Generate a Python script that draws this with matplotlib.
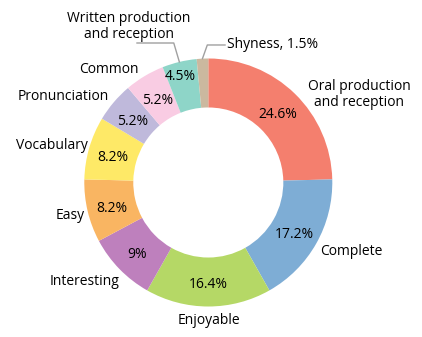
import numpy as np
import matplotlib
matplotlib.use("Agg")
import matplotlib.pyplot as plt

# data
categories = ["Oral production\nand reception", "Complete", "Enjoyable", "Interesting",
              "Easy", "Vocabulary", "Pronunciation", "Common",
              "Written production\nand reception", "Shyness"]
values = [24.6, 17.2, 16.4, 9, 8.2, 8.2, 5.2, 5.2, 4.5, 1.5]
colors = ["#F47F6E", "#7EADD5", "#B5D866", "#BE80BD", "#F9B562",
          "#FEE967", "#BFB9DB", "#F9CCE3", "#8ED5C8", "#CBB89F"]

plt.rcParams['font.family'] = ['Open Sans', 'DejaVu Sans']
fs = 10

fig = plt.figure(figsize=(4.22, 3.37), dpi=100)
ax = fig.add_axes([0, 0, 1, 1])

wedges, texts, autotexts = ax.pie(
    values, colors=colors, startangle=90, counterclock=False, radius=1,
    wedgeprops=dict(width=0.395, linewidth=0),
    labels=categories, labeldistance=1.06,
    autopct=lambda p: '%g%%' % round(p, 1), pctdistance=0.8,
    textprops=dict(fontsize=fs, color='black'))

# pie resets the limits, so place the donut afterwards (centre 208,182 px, radius 124 px)
ax.set_xlim(-208.3 / 124, (422 - 208.3) / 124)
ax.set_ylim(-(337 - 182.5) / 124, 182.5 / 124)
ax.set_aspect('equal')
ax.axis('off')

# outer label placement (in radius units), tuned by eye
label_pos = [(0.80, 0.71, 'left'), (0.90, -0.56, 'left'), (0.006, -1.11, 'center'),
             (-0.72, -0.80, 'right'), (-1.00, -0.27, 'right'), (-0.975, 0.30, 'right'),
             (-0.80, 0.69, 'right'), (-0.56, 0.915, 'right')]
for t, (x, y, ha) in zip(texts, label_pos):
    t.set_position((x, y))
    t.set_horizontalalignment(ha)
    t.set_verticalalignment('center')
    t.set_multialignment('center')
    t.set_linespacing(1.1)

for at in autotexts:
    x, y = at.get_position()
    at.set_position((x, y - 0.025))

# small slice label nudged outwards
ang = np.deg2rad((wedges[8].theta1 + wedges[8].theta2) / 2)
autotexts[8].set_position((0.88 * np.cos(ang) - 0.02, 0.88 * np.sin(ang)))
autotexts[9].set_visible(False)

# leader-line labels for the two thin slices at the top
texts[8].set_visible(False)
texts[9].set_visible(False)

ang = np.deg2rad((wedges[8].theta1 + wedges[8].theta2) / 2)
x0, y0 = np.cos(ang), np.sin(ang)
ax.plot([x0, x0 - 0.045, -0.575], [y0, 1.125, 1.125], color='#A0A0A0', lw=1)
ax.text(-0.64, 1.255, categories[8], ha='center', va='center', fontsize=fs,
        multialignment='center', linespacing=1.1)

ang = np.deg2rad((wedges[9].theta1 + wedges[9].theta2) / 2)
x0, y0 = np.cos(ang), np.sin(ang)
ax.plot([x0, -0.008, 0.135], [y0, 1.109, 1.109], color='#A0A0A0', lw=1)
ax.text(0.15, 1.109, "%s, %g%%" % (categories[9], values[9]), ha='left',
        va='center', fontsize=fs)

fig.savefig("out.png", dpi=100)
